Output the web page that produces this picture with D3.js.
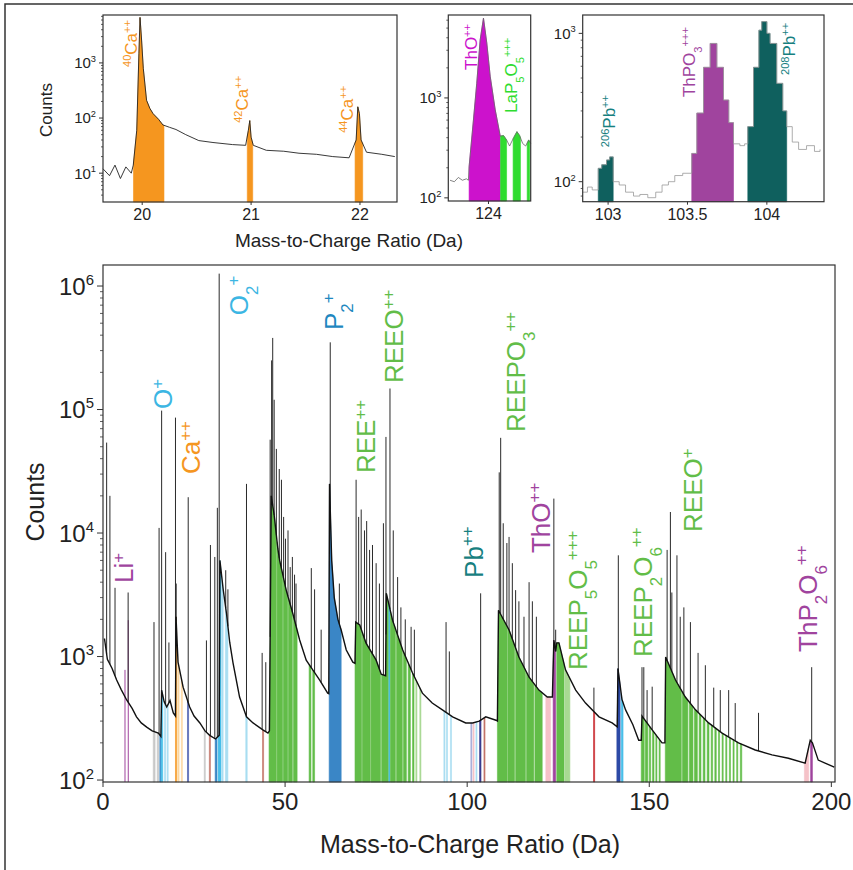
<!DOCTYPE html>
<html>
<head>
<meta charset="utf-8">
<title>Mass spectrum</title>
<script src="https://cdn.jsdelivr.net/npm/d3@7"></script>
<style>
  body { margin: 0; background: #fff; }
  svg text { font-family: "Liberation Sans", Arial, Helvetica, sans-serif; }
</style>
</head>
<body>
<svg id="fig" width="853" height="870"></svg>
<script>
// ---- main spectrum (mass in Da, counts) ----
const background = [
  [0.4, 1400], [1.2, 950], [2.5, 800], [3.75, 646], [5, 540], [6.5, 445], [8, 380], [9.2, 325],
  [10.5, 290], [12, 268], [13.5, 250], [15.2, 240], [15.9, 225], [16.1, 535], [16.8, 430],
  [17.5, 390], [18.4, 440], [19.3, 350], [19.9, 330], [20.05, 2100], [20.6, 900], [22, 565],
  [23.8, 390], [25, 330], [26.6, 290], [28, 250], [29.3, 230], [30.9, 215], [31.9, 230],
  [32.1, 6000], [33.0, 3500], [33.9, 2240], [34.8, 1300], [35.7, 890], [37.5, 470], [39.4, 325],
  [41.2, 290], [43.9, 255], [45.3, 240], [45.7, 250], [46.2, 20000], [47.0, 14000], [48.0, 7500],
  [48.5, 6000], [50.3, 3450], [52.1, 2240], [54, 1360], [55.8, 935], [57.6, 780], [59.5, 645],
  [61.7, 505], [62.0, 500], [62.2, 25000], [62.8, 6000], [63.5, 3000], [64.5, 2000], [65.4, 1640],
  [66.8, 1130], [68.6, 900], [69.2, 880], [69.4, 1900], [70.5, 1800], [72.2, 1290], [75, 935],
  [76.4, 720], [77.6, 700], [77.8, 3250], [79.5, 1970], [82.3, 1130], [85, 735], [87.7, 505],
  [90.4, 420], [93.2, 370], [96, 325], [99.6, 290], [101.5, 290], [103.3, 300], [105.1, 325],
  [107.9, 305], [108.3, 300], [108.6, 2370], [111.5, 1640], [114.2, 990], [117, 680], [119.7, 535],
  [122, 470], [123.4, 470], [123.8, 1360], [124.3, 1100], [124.6, 1290], [125.2, 1290], [127, 780],
  [129.8, 535], [132.5, 420], [136.2, 325], [139.8, 290], [141.2, 270], [141.4, 800], [142.5, 450],
  [143.5, 370], [145.5, 280], [147.1, 210], [147.8, 210], [148.0, 330], [150.8, 255], [153.5, 200],
  [154.3, 200], [154.5, 990], [157.2, 645], [159.9, 470], [162.7, 370], [166.3, 290], [170, 240],
  [174.5, 200], [179.1, 175], [183.7, 160], [188.2, 150], [192.8, 137], [194.2, 210], [194.8, 200],
  [196.4, 145], [200.8, 127]
];

const spikes = [
  [1.0, 54000], [1.9, 20000], [3.3, 3600], [6.9, 3300], [14.0, 1900], [15.4, 11000], [16.1, 98000],
  [17.2, 7000], [18.1, 1300], [19.9, 86000], [20.1, 3900], [23.4, 19500], [28.4, 1350], [29.5, 8000],
  [30.7, 6400], [31.4, 16000], [31.9, 1260000], [33.7, 5000], [34.3, 3500], [39.4, 25000],
  [43.7, 1070], [44.7, 900], [45.9, 57000], [46.3, 250000], [46.6, 380000], [47.0, 120000],
  [47.6, 48000], [48.4, 33000], [49.0, 27000], [49.6, 13500], [50.1, 9000], [50.8, 10500],
  [51.4, 5300], [52.0, 6400], [52.6, 4600], [53.0, 3900], [57.2, 5200], [58.1, 3500], [59.9, 1650],
  [62.4, 350000], [64.9, 3900], [69.5, 27000], [70.2, 13500], [70.9, 15500], [71.8, 10500],
  [72.4, 12500], [73.2, 7300], [74.0, 8000], [75.0, 5700], [75.9, 3900], [77.0, 12000],
  [77.7, 60000], [78.8, 148000], [79.7, 10500], [80.9, 4400], [81.8, 2500], [83.0, 2000],
  [84.6, 1740], [85.5, 1650], [94.2, 1900], [95.1, 1100], [103.7, 3250], [108.8, 31000],
  [109.2, 59000], [109.9, 12000], [110.9, 8300], [111.5, 9300], [112.4, 5700], [113.3, 3450],
  [114.2, 2800], [115.6, 2100], [117.0, 4000], [117.9, 2800], [119.0, 2100], [123.8, 19000],
  [124.3, 1650], [134.8, 560], [141.5, 6600], [148.0, 820], [148.5, 820], [149.4, 535], [150.8, 570],
  [154.9, 7300], [155.8, 14800], [156.2, 3300], [157.6, 6600], [158.5, 2100], [159.5, 2500],
  [161.3, 1900], [163.4, 1070], [165.4, 850], [167.7, 560], [169.5, 535], [171.8, 535],
  [173.6, 420], [180.0, 350], [194.6, 820]
];

// ranged ions: [from, to, species, optional top count]
const mainRanges = [
  [5.9, 6.1, 'Li', 780], [6.8, 7.0, 'Li', 1970], [13.8, 14.3, 'other'], [14.9, 15.3, 'other'],
  [15.6, 15.9, 'P'], [15.95, 16.4, 'O'], [16.9, 17.2, 'OH'], [17.6, 17.9, 'OH'],
  [19.9, 20.2, 'Ca'], [20.5, 20.9, 'CaMinor'], [21.5, 21.8, 'CaMinor'], [23.2, 23.5, 'Na'],
  [27.8, 28.1, 'other'], [29.2, 29.5, 'Si'], [30.8, 31.3, 'P'], [31.6, 32.4, 'O'],
  [32.6, 33.0, 'OH'], [33.6, 34.3, 'OH'], [39.2, 39.6, 'OH'], [43.8, 44.1, 'Si'],
  [45.6, 47.6, 'REE'], [47.8, 49.3, 'REE'], [49.5, 50.7, 'REE'], [50.9, 52.0, 'REE'],
  [52.3, 53.3, 'REE'], [56.6, 57.1, 'REE'], [57.6, 58.1, 'REE'], [62.1, 65.4, 'P'],
  [69.2, 71.0, 'REE'], [71.2, 73.4, 'REE'], [73.6, 76.2, 'REE'], [76.5, 78.4, 'REE'],
  [78.5, 78.8, 'O'], [78.9, 80.3, 'REE'], [80.6, 82.2, 'REE'], [82.5, 83.3, 'REE'],
  [83.8, 84.4, 'REE'], [85.0, 85.4, 'REE'], [85.9, 86.2, 'REElight'], [87.0, 87.3, 'REElight'],
  [93.6, 93.9, 'OH'], [94.3, 94.6, 'OH'], [95.4, 95.7, 'OH'], [101.0, 101.3, 'lavender'],
  [101.6, 101.9, 'pink'], [102.4, 102.7, 'OH'], [103.4, 103.8, 'Pb'], [104.6, 104.9, 'Si'],
  [108.3, 111.0, 'REE'], [111.2, 113.0, 'REE'], [113.3, 116.0, 'REE'], [116.3, 118.3, 'REE'],
  [118.6, 120.6, 'REE'], [121.6, 122.9, 'pink'], [123.6, 124.3, 'Th'], [124.6, 126.6, 'REE'],
  [126.8, 128.2, 'REElight'], [134.7, 135.0, 'red'], [141.1, 142.0, 'royal'], [142.3, 142.8, 'O'],
  [147.8, 148.6, 'REE'], [148.9, 149.6, 'REE'], [150.0, 150.4, 'REE'], [150.9, 151.3, 'REE'],
  [151.8, 152.1, 'REE'], [152.7, 153.0, 'REE'], [154.4, 158.8, 'REE'], [159.1, 160.6, 'REE'],
  [161.0, 162.0, 'REE'], [162.4, 163.2, 'REE'], [163.7, 164.2, 'REE'], [164.8, 165.3, 'REE'],
  [165.9, 166.4, 'REE'], [167.0, 167.4, 'REE'], [168.0, 168.4, 'REE'], [169.0, 169.3, 'REE'],
  [170.0, 170.3, 'REE'], [171.0, 171.3, 'REE'], [172.0, 172.3, 'REE'], [173.0, 173.3, 'REE'],
  [174.0, 174.3, 'REE'], [175.0, 175.4, 'REE'], [192.6, 193.8, 'pink'], [194.3, 194.8, 'Th']
];

// labels: [mass, count at text start, parts, species]
const mainLabels = [
  [8.24, 3940, [['Li', ''], ['+', 'sup']], 'Th'],
  [18.95, 101000, [['O', ''], ['+', 'sup']], 'Otext'],
  [26.6, 30000, [['Ca', ''], ['++', 'sup']], 'Ca'],
  [39.8, 580000, [['O', ''], ['2', 'sub'], ['+', 'sup']], 'Otext'],
  [65.9, 440000, [['P', ''], ['2', 'sub'], ['+', 'sup']], 'Ptext'],
  [74.7, 30600, [['REE', ''], ['++', 'sup']], 'REE'],
  [82.4, 164000, [['REEO', ''], ['++', 'sup']], 'REE'],
  [115.9, 65800, [['REEPO', ''], ['3', 'sub'], ['++', 'sup']], 'REE'],
  [104.3, 4330, [['Pb', ''], ['++', 'sup']], 'Pbtext'],
  [122.7, 6890, [['ThO', ''], ['++', 'sup']], 'Th'],
  [132.9, 778, [['REEP', ''], ['5', 'sub'], ['O', ''], ['5', 'sub'], ['+++', 'sup']], 'REE'],
  [150.7, 990, [['REEP', ''], ['2', 'sub'], ['O', ''], ['6', 'sub'], ['++', 'sup']], 'REE'],
  [164.5, 10200, [['REEO', ''], ['+', 'sup']], 'REE'],
  [196.0, 1090, [['ThP', ''], ['2', 'sub'], ['O', ''], ['6', 'sub'], ['++', 'sup']], 'Th']
];

// ---- inset 1: Ca++ region ----
const caSpectrum = [
  [19.64, 12], [19.70, 9], [19.75, 14], [19.80, 8], [19.85, 13], [19.90, 10], [19.918, 14],
  [19.95, 60], [19.97, 1500], [19.98, 6700], [19.995, 2500], [20.01, 800], [20.04, 210],
  [20.07, 150], [20.10, 120], [20.15, 95], [20.19, 75], [20.25, 68], [20.31, 62], [20.4, 50],
  [20.52, 39], [20.65, 36], [20.83, 33], [20.95, 32], [20.975, 60], [20.988, 90], [21.0, 45],
  [21.02, 32], [21.14, 26], [21.3, 25], [21.44, 23], [21.6, 22], [21.75, 20], [21.9, 19],
  [21.965, 40], [21.98, 160], [21.995, 120], [22.01, 40], [22.06, 24], [22.2, 22], [22.32, 20]
];
const caRanges = [[19.92, 20.2, 'Ca'], [20.965, 21.015, 'Ca'], [21.955, 22.025, 'Ca']];
const caLabels = [
  [19.952, 845, [['40', 'sup'], ['Ca', ''], ['++', 'sup']], 'Ca'],
  [20.97, 82, [['42', 'sup'], ['Ca', ''], ['++', 'sup']], 'Ca'],
  [21.936, 54, [['44', 'sup'], ['Ca', ''], ['++', 'sup']], 'Ca']
];

// ---- inset 2: ThO++ region ----
const thSpectrum = [
  [123.617, 150], [123.66, 145], [123.7, 160], [123.74, 150], [123.78, 155], [123.80, 150],
  [123.807, 205], [123.85, 600], [123.883, 1400], [123.917, 3800], [123.95, 6300], [123.983, 3550],
  [124.017, 1650], [124.067, 760], [124.117, 415], [124.15, 420], [124.18, 380], [124.21, 330],
  [124.25, 400], [124.283, 460], [124.31, 420], [124.34, 350], [124.37, 330], [124.40, 380],
  [124.42, 350]
];
const thRanges = [[123.807, 124.117, 'ThBright'], [124.12, 124.18, 'LaP'], [124.245, 124.318, 'LaP'], [124.385, 124.41, 'LaP']];
const thLabels = [
  [123.886, 1905, [['ThO', ''], ['++', 'sup']], 'ThBright'],
  [124.284, 708, [['LaP', ''], ['5', 'sub'], ['O', ''], ['5', 'sub'], ['+++', 'sup']], 'LaP']
];

// ---- inset 3: Pb++ region ----
const pbSpectrum = [
  [102.84, 85], [102.87, 92], [102.9, 88], [102.938, 123], [102.96, 130], [102.99, 140], [103.01, 147],
  [103.032, 100], [103.07, 95], [103.11, 85], [103.16, 80], [103.2, 82], [103.25, 78], [103.3, 85],
  [103.34, 95], [103.38, 100], [103.42, 110], [103.47, 114], [103.527, 155], [103.559, 290],
  [103.601, 590], [103.643, 855], [103.685, 590], [103.727, 355], [103.76, 250], [103.79, 180],
  [103.83, 175], [103.86, 180], [103.88, 235], [103.916, 590], [103.95, 1050], [103.968, 1200],
  [104.0, 1000], [104.02, 855], [104.062, 460], [104.1, 300], [104.125, 235], [104.16, 185],
  [104.2, 165], [104.25, 175], [104.3, 160], [104.335, 165]
];
const pbRanges = [[102.938, 103.032, 'PbDark'], [103.527, 103.79, 'Th'], [103.88, 104.125, 'PbDark']];
const pbLabels = [
  [103.043, 171, [['206', 'sup'], ['Pb', ''], ['++', 'sup']], 'Pbtext'],
  [103.547, 372, [['ThPO', ''], ['3', 'sub'], ['+++', 'sup']], 'Th'],
  [104.178, 524, [['208', 'sup'], ['Pb', ''], ['++', 'sup']], 'Pbtext']
];

// ---- colours ----
const colour = {
  Li: '#a0459e', Th: '#a0449e', ThBright: '#cc12cc', LaP: '#2fdc2f',
  O: '#49bfe9', Otext: '#3cb6e3', OH: '#a9def2', P: '#3a86c6', Ptext: '#1f88c0',
  Ca: '#f5961f', CaMinor: '#fcd7a0', Na: '#4a5cae', Si: '#c27468', other: '#c8c8c8',
  REE: '#62bd48', REElight: '#a8d992', lavender: '#a6add9', pink: '#f5c2c8',
  Pb: '#3b3d8f', PbDark: '#0f605e', Pbtext: '#17807f', red: '#c7262b', royal: '#2d4aa6'
};
const axisCol = '#333';

const svg = d3.select('#fig');

// outer figure border (top and left edge)
svg.append('path').attr('d', 'M5,870V4H853').attr('fill', 'none')
  .attr('stroke', axisCol).attr('stroke-width', 1.5);

// ---- helpers ----
function valueAt(pts, m, step) {
  const i = d3.bisector(d => d[0]).right(pts, m);
  if (i <= 0) return pts[0][1];
  if (i >= pts.length) return pts[pts.length - 1][1];
  if (step) return pts[i - 1][1];
  const [m0, c0] = pts[i - 1], [m1, c1] = pts[i];
  const t = (m - m0) / (m1 - m0);
  return Math.exp(Math.log(c0) + t * (Math.log(c1) - Math.log(c0)));
}

function slice(pts, lo, hi, step) {
  return [[lo, valueAt(pts, lo, step)], ...pts.filter(p => p[0] > lo && p[0] < hi), [hi, valueAt(pts, hi, step)]];
}

function richText(px, py, parts, fs, fill) {
  const t = svg.append('text')
    .attr('transform', `translate(${px},${py}) rotate(-90)`)
    .attr('font-size', fs).attr('fill', fill);
  let cur = 0;
  parts.forEach(([s, k]) => {
    const off = k === 'sup' ? -0.36 * fs : k === 'sub' ? 0.4 * fs : 0;
    t.append('tspan').attr('dy', off - cur).attr('font-size', k ? 0.65 * fs : fs).text(s);
    cur = off;
  });
}

function frame(x, y) {
  const [x0, x1] = x.range(), [y0, y1] = y.range();
  svg.append('rect').attr('x', x0).attr('y', y1).attr('width', x1 - x0).attr('height', y0 - y1)
    .attr('fill', 'none').attr('stroke', axisCol).attr('stroke-width', 1.2);
}

function logAxis(y, x0, majors, fs, len) {
  const g = svg.append('g').attr('transform', `translate(${x0},0)`);
  const [lo, hi] = y.domain();
  const minors = [];
  for (let e = Math.floor(Math.log10(lo)); e <= Math.ceil(Math.log10(hi)); e++) {
    for (let k = 2; k < 10; k++) {
      const v = k * Math.pow(10, e);
      if (v > lo && v < hi) minors.push(v);
    }
  }
  g.selectAll('.mn').data(minors).join('line').attr('class', 'mn')
    .attr('x1', -len * 0.5).attr('x2', 0).attr('y1', d => y(d)).attr('y2', d => y(d))
    .attr('stroke', axisCol).attr('stroke-width', 0.8);
  g.selectAll('.mj').data(majors).join('line').attr('class', 'mj')
    .attr('x1', -len).attr('x2', 0).attr('y1', d => y(d)).attr('y2', d => y(d))
    .attr('stroke', axisCol).attr('stroke-width', 1);
  const lab = g.selectAll('.lb').data(majors).join('text').attr('class', 'lb')
    .attr('x', -len - 3).attr('y', d => y(d) + fs * 0.36)
    .attr('text-anchor', 'end').attr('font-size', fs).attr('fill', '#222');
  lab.text('10').append('tspan').attr('dy', -0.42 * fs).attr('font-size', 0.62 * fs)
    .text(d => Math.round(Math.log10(d)));
}

function linAxis(x, y0, ticks, fs, len, fmt) {
  const g = svg.append('g').attr('transform', `translate(0,${y0})`);
  g.selectAll('line').data(ticks).join('line')
    .attr('x1', d => x(d)).attr('x2', d => x(d)).attr('y1', 0).attr('y2', len)
    .attr('stroke', axisCol);
  g.selectAll('text').data(ticks).join('text')
    .attr('x', d => x(d)).attr('y', len + fs * 0.95)
    .attr('text-anchor', 'middle').attr('font-size', fs).attr('fill', '#222')
    .text(fmt || (d => d));
}

function drawFills(x, y, pts, ranges, step) {
  const bottom = y.range()[0];
  ranges.forEach(r => {
    const [lo, hi, sp, top] = r;
    if (top) {
      svg.append('rect').attr('x', x(lo)).attr('width', Math.max(1, x(hi) - x(lo)))
        .attr('y', y(top)).attr('height', bottom - y(top)).attr('fill', colour[sp]);
      return;
    }
    const area = d3.area().x(d => x(d[0])).y0(bottom).y1(d => y(d[1]))
      .curve(step ? d3.curveStepAfter : d3.curveLinear);
    svg.append('path').attr('d', area(slice(pts, lo, hi, step))).attr('fill', colour[sp])
      .attr('stroke', colour[sp]).attr('stroke-width', 0.6);
  });
}

function drawLabels(x, y, labels, fs) {
  labels.forEach(([m, c, parts, sp]) => richText(x(m), y(c), parts, fs, colour[sp]));
}

// ================= main plot =================
const xMain = d3.scaleLinear().domain([0, 201]).range([103, 835]);
const yMain = d3.scaleLog().domain([96.4, 1.48e6]).range([782, 265]);

svg.append('clipPath').attr('id', 'clipMain').append('rect')
  .attr('x', 103).attr('y', 265).attr('width', 732).attr('height', 517);

drawFills(xMain, yMain, background, mainRanges, false);

svg.append('g').attr('clip-path', 'url(#clipMain)').selectAll('line').data(spikes).join('line')
  .attr('x1', d => xMain(d[0])).attr('x2', d => xMain(d[0]))
  .attr('y1', d => yMain(valueAt(background, d[0]))).attr('y2', d => yMain(d[1]))
  .attr('stroke', '#2a2a2a').attr('stroke-width', 1);

svg.append('path').attr('clip-path', 'url(#clipMain)')
  .attr('d', d3.line().x(d => xMain(d[0])).y(d => yMain(d[1]))(background))
  .attr('fill', 'none').attr('stroke', '#111').attr('stroke-width', 1.4);

frame(xMain, yMain);
logAxis(yMain, 103, [1e2, 1e3, 1e4, 1e5, 1e6], 24, 6);
linAxis(xMain, 782, [0, 50, 100, 150, 200], 24, 5);
drawLabels(xMain, yMain, mainLabels, 26);

svg.append('text').attr('transform', 'translate(44,502) rotate(-90)').attr('text-anchor', 'middle')
  .attr('font-size', 25).attr('fill', '#222').text('Counts');
svg.append('text').attr('x', 470).attr('y', 853).attr('text-anchor', 'middle')
  .attr('font-size', 25).attr('fill', '#222').text('Mass-to-Charge Ratio (Da)');

// ================= inset 1 =================
const x1 = d3.scaleLinear().domain([19.64, 22.34]).range([103, 397]);
const y1 = d3.scaleLog().domain([3.0, 7400]).range([202, 15]);
drawFills(x1, y1, caSpectrum, caRanges, false);
svg.append('path').attr('d', d3.line().x(d => x1(d[0])).y(d => y1(d[1]))(caSpectrum))
  .attr('fill', 'none').attr('stroke', '#222').attr('stroke-width', 0.9);
frame(x1, y1);
logAxis(y1, 103, [10, 100, 1000], 15, 4);
linAxis(x1, 202, [20, 21, 22], 16, 3);
drawLabels(x1, y1, caLabels, 17);

// ================= inset 2 =================
const x2 = d3.scaleLinear().domain([123.6, 124.42]).range([448.3, 530.7]);
const y2 = d3.scaleLog().domain([93, 6760]).range([201, 15]);
drawFills(x2, y2, thSpectrum, thRanges, false);
svg.append('path').attr('d', d3.line().x(d => x2(d[0])).y(d => y2(d[1]))(thSpectrum))
  .attr('fill', 'none').attr('stroke', '#666').attr('stroke-width', 0.8);
frame(x2, y2);
logAxis(y2, 448.3, [100, 1000], 15, 4);
linAxis(x2, 201, [124], 16, 3);
drawLabels(x2, y2, thLabels, 17);

// ================= inset 3 =================
const x3 = d3.scaleLinear().domain([102.84, 104.36]).range([582.7, 824]);
const y3 = d3.scaleLog().domain([73.3, 1330]).range([201.7, 15]);
drawFills(x3, y3, pbSpectrum, pbRanges, true);
svg.append('path').attr('d', d3.line().x(d => x3(d[0])).y(d => y3(d[1])).curve(d3.curveStepAfter)(pbSpectrum))
  .attr('fill', 'none').attr('stroke', '#999').attr('stroke-width', 0.8);
frame(x3, y3);
logAxis(y3, 582.7, [100, 1000], 15, 4);
linAxis(x3, 201.7, [103, 103.5, 104], 16, 3);
drawLabels(x3, y3, pbLabels, 17);

svg.append('text').attr('transform', 'translate(52,110) rotate(-90)').attr('text-anchor', 'middle')
  .attr('font-size', 17).attr('fill', '#222').text('Counts');
svg.append('text').attr('x', 349).attr('y', 247).attr('text-anchor', 'middle')
  .attr('font-size', 19).attr('fill', '#222').text('Mass-to-Charge Ratio (Da)');
</script>
</body>
</html>
